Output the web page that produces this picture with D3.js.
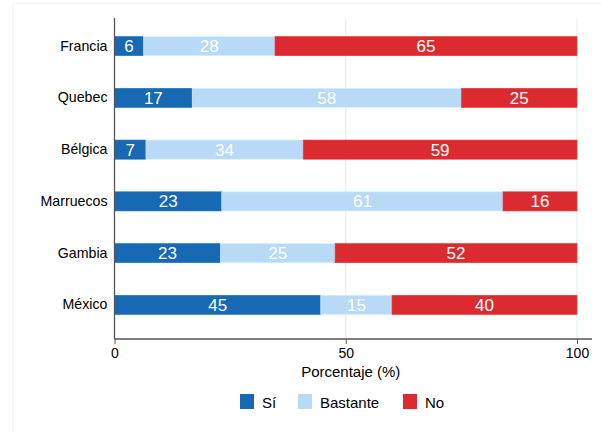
<!DOCTYPE html>
<html><head><meta charset="utf-8">
<script src="https://cdn.jsdelivr.net/npm/d3@7"></script>
<style>body{margin:0;background:#fff}svg{display:block;font-family:"Liberation Sans",Arial,sans-serif}</style>
</head><body><svg id="c" width="601" height="432"></svg>
<script>
const categories = ["Francia","Quebec","Bélgica","Marruecos","Gambia","México"];
const seriesNames = ["Sí","Bastante","No"];
const si       = [6.3, 16.8, 6.8, 23.2, 22.9, 44.6];
const bastante = [28.4, 58.2, 34.0, 60.8, 24.8, 15.4];
const no       = [65.3, 25.0, 59.2, 16.0, 52.3, 40.0];
const xTicks = [0, 50, 100];
const colors = ["#1769b3", "#b8daf6", "#dc2b30"];

const svg = d3.select("#c");
svg.append("rect").attr("x",12.5).attr("y",3.5).attr("width",600).attr("height",440)
  .attr("fill","none").attr("stroke","#f4f4f4");

const L = 114.5, R = 577, T = 18, B = 339;
const x = d3.scaleLinear().domain([0,100]).range([L,R]);
const y = d3.scaleBand().domain(categories).range([21,330]).paddingInner(0.63).paddingOuter(0.3);

// gridlines
svg.append("g").selectAll("line").data(xTicks.filter(d=>d>0)).join("line")
  .attr("x1",d=>x(d)).attr("x2",d=>x(d)).attr("y1",T).attr("y2",B)
  .attr("stroke","#e6eef0").attr("stroke-width",1.2);

const rows = categories.map((c,i)=>({cat:c, vals:[si[i],bastante[i],no[i]]}));
const stack = d3.stack().keys([0,1,2]).value((d,k)=>d.vals[k])(rows);

stack.forEach((layer,k)=>{
  const g = svg.append("g");
  g.selectAll("rect").data(layer).join("rect")
    .attr("x",d=>x(d[0])).attr("width",d=>x(d[1])-x(d[0]))
    .attr("y",d=>y(d.data.cat)).attr("height",y.bandwidth())
    .attr("fill",colors[k]).attr("stroke",d3.color(colors[k]).brighter(0.3)).attr("stroke-width",0.6);
  g.selectAll("text").data(layer).join("text")
    .attr("x",d=>(x(d[0])+x(d[1]))/2).attr("y",d=>y(d.data.cat)+y.bandwidth()/2+6)
    .attr("text-anchor","middle").attr("fill","#fff").attr("font-size",17)
    .text(d=>d3.format(".0f")(d.data.vals[k]));
});

// y axis
const ya = svg.append("g").attr("transform",`translate(${L},0)`)
  .call(d3.axisLeft(y).tickSize(0).tickPadding(7));
ya.select(".domain").attr("d",`M0,${T}V${B}`).attr("stroke","#555").attr("stroke-width",1.3);
ya.selectAll("text").attr("font-size",14.2).attr("fill","#000").attr("font-family","Liberation Sans, Arial, sans-serif");

// x axis
const xa = svg.append("g").attr("transform",`translate(0,${B})`)
  .call(d3.axisBottom(x).tickValues(xTicks).tickSize(5).tickPadding(4));
xa.select(".domain").attr("d",`M${L},0H592`).attr("stroke","#555").attr("stroke-width",1.3);
xa.selectAll("line").attr("stroke","#555");
xa.selectAll("text").attr("font-size",14).attr("fill","#000").attr("font-family","Liberation Sans, Arial, sans-serif");

svg.append("text").attr("x",x(50)+5).attr("y",377).attr("text-anchor","middle")
  .attr("font-size",15).text("Porcentaje (%)");

// legend
const legX = [240, 298, 403];
const lg = svg.append("g").selectAll("g").data(seriesNames).join("g")
  .attr("transform",(d,i)=>`translate(${legX[i]},394)`);
lg.append("rect").attr("width",14).attr("height",15).attr("fill",(d,i)=>colors[i]);
lg.append("text").attr("x",22).attr("y",13.5).attr("font-size",15).text(d=>d);
</script></body></html>
